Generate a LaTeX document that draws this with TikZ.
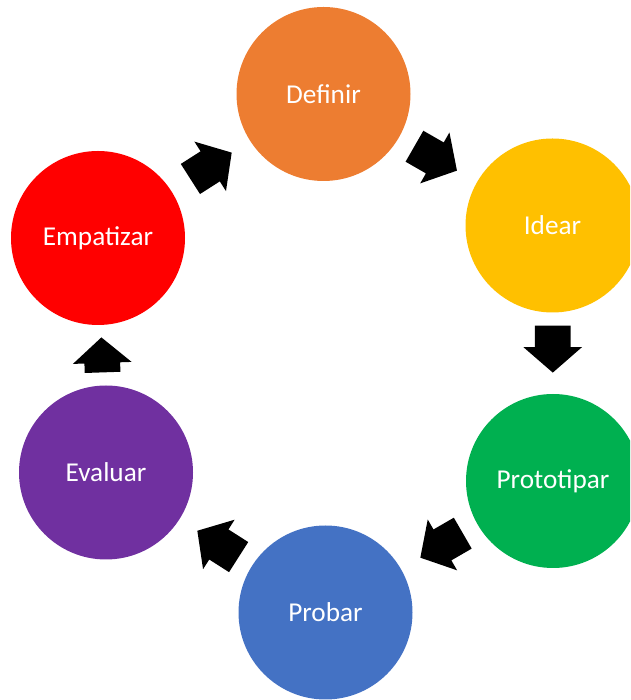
\documentclass[tikz,border=0pt]{standalone}
\usepackage{fontspec}
\setmainfont{Carlito}
\usetikzlibrary{calc,shapes.arrows}
\definecolor{cdef}{HTML}{ED7D31}
\definecolor{cide}{HTML}{FFC000}
\definecolor{cpro}{HTML}{00B050}
\definecolor{cprb}{HTML}{4472C4}
\definecolor{ceva}{HTML}{7030A0}
\definecolor{cemp}{HTML}{FF0000}
\begin{document}
\begin{tikzpicture}[line join=round, line cap=round]
			\tikzset{etapa/.style={circle,minimum size=3.48cm,inner sep=0pt,text=white,font=\fontsize{15.5}{18}\selectfont},
				flecha/.style={single arrow,fill=black,inner xsep=0pt,inner ysep=0.35cm,single arrow head extend=0.23cm,single arrow tip angle=98,anchor=tail}}
			\clip (0,0) rectangle (12.6,14);
			\node[etapa,fill=cdef] (def) at (6.47,12.12) {Definir};
			\node[etapa,fill=cide] (ide) at (11.05,9.49) {Idear};
			\node[etapa,fill=cpro] (pro) at (11.06,4.38) {Prototipar};
			\node[etapa,fill=cprb] (prb) at (6.51,1.75) {Probar};
			\node[etapa,fill=ceva] (eva) at (2.12,4.55) {Evaluar};
			\node[etapa,fill=cemp] (emp) at (1.96,9.24) {Empatizar};
			\foreach \a/\b/\l/\h in {emp/def/0.98/0.49,def/ide/0.98/0.55,ide/pro/0.94/0.56,pro/prb/0.98/0.55,prb/eva/0.98/0.55,eva/emp/0.7/0.35}
			\path let \p1=($(\b)-(\a)$), \n1={atan2(\y1,\x1)} in
				node[flecha,minimum height=\l cm,rotate=\n1] (f\a) at ($(\a)!0.5!(\b)!\h cm!(\a)$) {};
		\end{tikzpicture}
\end{document}
